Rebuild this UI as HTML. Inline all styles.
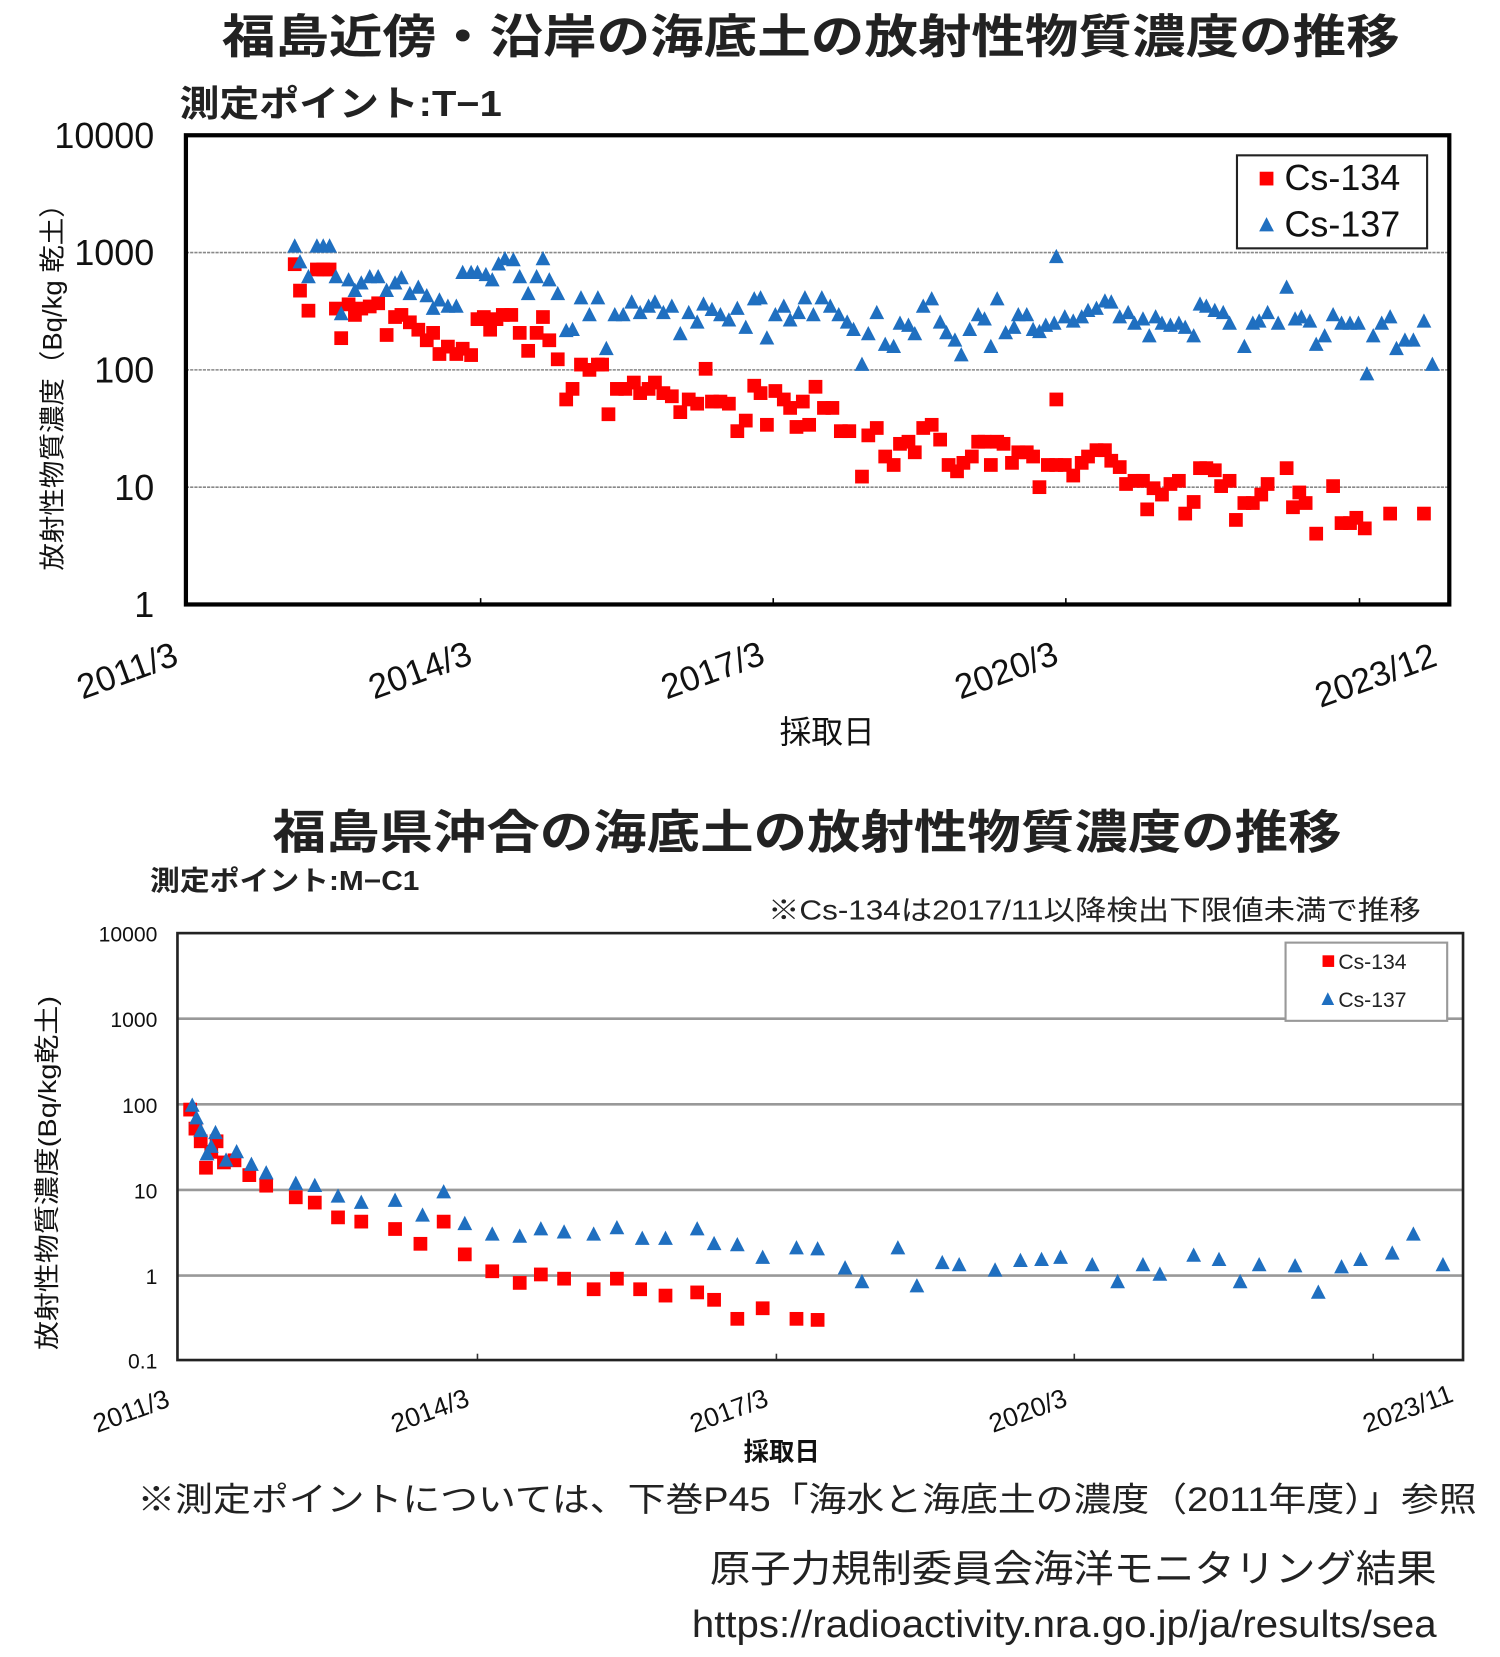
<!DOCTYPE html>
<html><head><meta charset="utf-8"><style>
html,body{margin:0;padding:0;background:#fff;}
svg{display:block;}
text{font-family:"Liberation Sans","Noto Sans CJK JP",sans-serif;}
</style></head><body>
<svg width="1500" height="1657" viewBox="0 0 1420 1568" preserveAspectRatio="none" xmlns="http://www.w3.org/2000/svg">
<defs>
<rect id="sq" x="-6.5" y="-6.5" width="13" height="13" fill="#ff0000"/>
<path id="tr" d="M0,-7.5 L7,6 L-7,6Z" fill="#1f6fc0"/>
</defs>
<!-- Top chart -->
<text x="210" y="50" textLength="1115" lengthAdjust="spacingAndGlyphs" font-size="44" font-weight="bold" fill="#222">福島近傍・沿岸の海底土の放射性物質濃度の推移</text>
<text x="170" y="110" textLength="305" lengthAdjust="spacingAndGlyphs" font-size="34" font-weight="bold" fill="#222">測定ポイント:T−1</text>
<g stroke="#888" stroke-width="1.5" stroke-dasharray="3,1">
<line x1="176" y1="239" x2="1372" y2="239"/><line x1="176" y1="350" x2="1372" y2="350"/><line x1="176" y1="461" x2="1372" y2="461"/>
</g>
<g stroke="#000" stroke-width="1.5"><line x1="455" y1="566" x2="455" y2="572"/><line x1="732" y1="566" x2="732" y2="572"/><line x1="1009" y1="566" x2="1009" y2="572"/><line x1="1287" y1="566" x2="1287" y2="572"/></g>
<rect x="176" y="128" width="1196" height="444" fill="none" stroke="#000" stroke-width="4"/>
<g font-size="34" text-anchor="end" fill="#111">
<text x="146" y="140">10000</text><text x="146" y="251">1000</text><text x="146" y="362">100</text><text x="146" y="473">10</text><text x="146" y="584">1</text>
</g>
<g font-size="33" fill="#111">
<text transform="translate(78,662) rotate(-20)">2011/3</text>
<text transform="translate(354,662) rotate(-20)">2014/3</text>
<text transform="translate(631,662) rotate(-20)">2017/3</text>
<text transform="translate(909,662) rotate(-20)">2020/3</text>
<text transform="translate(1250,670) rotate(-20)">2023/12</text>
</g>
<text x="783" y="703" text-anchor="middle" font-size="30" fill="#111">採取日</text>
<text transform="translate(58,360) rotate(-90)" text-anchor="middle" font-size="25" fill="#111" textLength="360" lengthAdjust="spacingAndGlyphs">放射性物質濃度（Bq/kg 乾土）</text>
<rect x="1171" y="147" width="180" height="88" fill="#fff" stroke="#222" stroke-width="2"/>
<use href="#sq" x="1199" y="169"/><text x="1216" y="180" font-size="34" fill="#111">Cs-134</text>
<use href="#tr" x="1199" y="213"/><text x="1216" y="224" font-size="34" fill="#111">Cs-137</text>
<g>
<use href="#sq" x="279" y="250"/><use href="#sq" x="284" y="275"/><use href="#sq" x="292" y="294"/><use href="#sq" x="300" y="255"/><use href="#sq" x="306" y="255"/><use href="#sq" x="312" y="255"/><use href="#sq" x="318" y="292"/><use href="#sq" x="323" y="320"/><use href="#sq" x="330" y="288"/><use href="#sq" x="336" y="298"/><use href="#sq" x="342" y="292"/><use href="#sq" x="350" y="290"/><use href="#sq" x="358" y="287"/><use href="#sq" x="366" y="317"/><use href="#sq" x="374" y="300"/><use href="#sq" x="380" y="298"/><use href="#sq" x="388" y="305"/><use href="#sq" x="396" y="312"/><use href="#sq" x="404" y="322"/><use href="#sq" x="410" y="315"/><use href="#sq" x="416" y="335"/><use href="#sq" x="424" y="328"/><use href="#sq" x="432" y="335"/><use href="#sq" x="438" y="330"/><use href="#sq" x="446" y="336"/><use href="#sq" x="452" y="302"/><use href="#sq" x="458" y="300"/><use href="#sq" x="464" y="312"/><use href="#sq" x="470" y="302"/><use href="#sq" x="476" y="298"/><use href="#sq" x="484" y="298"/><use href="#sq" x="492" y="315"/><use href="#sq" x="500" y="332"/><use href="#sq" x="508" y="315"/><use href="#sq" x="514" y="300"/><use href="#sq" x="520" y="322"/><use href="#sq" x="528" y="340"/><use href="#sq" x="536" y="378"/><use href="#sq" x="542" y="368"/><use href="#sq" x="550" y="345"/><use href="#sq" x="558" y="350"/><use href="#sq" x="566" y="345"/><use href="#sq" x="570" y="345"/><use href="#sq" x="576" y="392"/><use href="#sq" x="584" y="368"/><use href="#sq" x="592" y="368"/><use href="#sq" x="600" y="362"/><use href="#sq" x="606" y="372"/><use href="#sq" x="614" y="368"/><use href="#sq" x="620" y="362"/><use href="#sq" x="628" y="372"/><use href="#sq" x="636" y="375"/><use href="#sq" x="644" y="390"/><use href="#sq" x="652" y="378"/><use href="#sq" x="660" y="382"/><use href="#sq" x="668" y="349"/><use href="#sq" x="674" y="380"/><use href="#sq" x="682" y="380"/><use href="#sq" x="690" y="382"/><use href="#sq" x="698" y="408"/><use href="#sq" x="706" y="398"/><use href="#sq" x="714" y="365"/><use href="#sq" x="720" y="372"/><use href="#sq" x="726" y="402"/><use href="#sq" x="734" y="370"/><use href="#sq" x="742" y="378"/><use href="#sq" x="748" y="386"/><use href="#sq" x="754" y="404"/><use href="#sq" x="760" y="380"/><use href="#sq" x="766" y="402"/><use href="#sq" x="772" y="366"/><use href="#sq" x="780" y="386"/><use href="#sq" x="788" y="386"/><use href="#sq" x="796" y="408"/><use href="#sq" x="804" y="408"/><use href="#sq" x="816" y="451"/><use href="#sq" x="822" y="412"/><use href="#sq" x="830" y="405"/><use href="#sq" x="838" y="432"/><use href="#sq" x="846" y="440"/><use href="#sq" x="852" y="420"/><use href="#sq" x="860" y="418"/><use href="#sq" x="866" y="428"/><use href="#sq" x="874" y="405"/><use href="#sq" x="882" y="402"/><use href="#sq" x="890" y="416"/><use href="#sq" x="898" y="440"/><use href="#sq" x="906" y="446"/><use href="#sq" x="912" y="438"/><use href="#sq" x="920" y="432"/><use href="#sq" x="926" y="418"/><use href="#sq" x="932" y="418"/><use href="#sq" x="938" y="440"/><use href="#sq" x="944" y="418"/><use href="#sq" x="950" y="420"/><use href="#sq" x="958" y="438"/><use href="#sq" x="964" y="428"/><use href="#sq" x="972" y="428"/><use href="#sq" x="978" y="432"/><use href="#sq" x="984" y="461"/><use href="#sq" x="992" y="440"/><use href="#sq" x="1000" y="440"/><use href="#sq" x="1000" y="378"/><use href="#sq" x="1008" y="440"/><use href="#sq" x="1016" y="450"/><use href="#sq" x="1024" y="438"/><use href="#sq" x="1030" y="432"/><use href="#sq" x="1038" y="426"/><use href="#sq" x="1046" y="426"/><use href="#sq" x="1052" y="436"/><use href="#sq" x="1060" y="442"/><use href="#sq" x="1066" y="458"/><use href="#sq" x="1074" y="455"/><use href="#sq" x="1082" y="455"/><use href="#sq" x="1086" y="482"/><use href="#sq" x="1092" y="462"/><use href="#sq" x="1100" y="468"/><use href="#sq" x="1108" y="458"/><use href="#sq" x="1116" y="455"/><use href="#sq" x="1122" y="486"/><use href="#sq" x="1130" y="475"/><use href="#sq" x="1136" y="443"/><use href="#sq" x="1142" y="443"/><use href="#sq" x="1150" y="445"/><use href="#sq" x="1156" y="460"/><use href="#sq" x="1164" y="455"/><use href="#sq" x="1170" y="492"/><use href="#sq" x="1178" y="476"/><use href="#sq" x="1186" y="476"/><use href="#sq" x="1194" y="468"/><use href="#sq" x="1200" y="458"/><use href="#sq" x="1218" y="443"/><use href="#sq" x="1224" y="480"/><use href="#sq" x="1230" y="466"/><use href="#sq" x="1236" y="476"/><use href="#sq" x="1246" y="505"/><use href="#sq" x="1262" y="460"/><use href="#sq" x="1270" y="495"/><use href="#sq" x="1278" y="495"/><use href="#sq" x="1284" y="490"/><use href="#sq" x="1292" y="500"/><use href="#sq" x="1316" y="486"/><use href="#sq" x="1348" y="486"/>
</g>
<g>
<use href="#tr" x="279" y="233"/><use href="#tr" x="284" y="248"/><use href="#tr" x="292" y="262"/><use href="#tr" x="300" y="233"/><use href="#tr" x="306" y="233"/><use href="#tr" x="312" y="233"/><use href="#tr" x="318" y="262"/><use href="#tr" x="323" y="297"/><use href="#tr" x="330" y="265"/><use href="#tr" x="336" y="275"/><use href="#tr" x="342" y="268"/><use href="#tr" x="350" y="262"/><use href="#tr" x="358" y="262"/><use href="#tr" x="366" y="275"/><use href="#tr" x="374" y="268"/><use href="#tr" x="380" y="263"/><use href="#tr" x="388" y="278"/><use href="#tr" x="396" y="272"/><use href="#tr" x="404" y="280"/><use href="#tr" x="410" y="292"/><use href="#tr" x="416" y="284"/><use href="#tr" x="424" y="290"/><use href="#tr" x="432" y="290"/><use href="#tr" x="438" y="258"/><use href="#tr" x="446" y="258"/><use href="#tr" x="452" y="258"/><use href="#tr" x="460" y="260"/><use href="#tr" x="466" y="265"/><use href="#tr" x="472" y="250"/><use href="#tr" x="478" y="245"/><use href="#tr" x="486" y="246"/><use href="#tr" x="492" y="262"/><use href="#tr" x="500" y="278"/><use href="#tr" x="508" y="262"/><use href="#tr" x="514" y="245"/><use href="#tr" x="520" y="265"/><use href="#tr" x="528" y="278"/><use href="#tr" x="536" y="313"/><use href="#tr" x="542" y="312"/><use href="#tr" x="550" y="282"/><use href="#tr" x="558" y="298"/><use href="#tr" x="566" y="282"/><use href="#tr" x="574" y="330"/><use href="#tr" x="582" y="298"/><use href="#tr" x="590" y="298"/><use href="#tr" x="598" y="286"/><use href="#tr" x="606" y="296"/><use href="#tr" x="614" y="290"/><use href="#tr" x="620" y="286"/><use href="#tr" x="628" y="296"/><use href="#tr" x="636" y="290"/><use href="#tr" x="644" y="316"/><use href="#tr" x="652" y="296"/><use href="#tr" x="660" y="305"/><use href="#tr" x="666" y="288"/><use href="#tr" x="674" y="293"/><use href="#tr" x="682" y="298"/><use href="#tr" x="690" y="303"/><use href="#tr" x="698" y="292"/><use href="#tr" x="706" y="310"/><use href="#tr" x="714" y="283"/><use href="#tr" x="720" y="282"/><use href="#tr" x="726" y="320"/><use href="#tr" x="734" y="298"/><use href="#tr" x="742" y="290"/><use href="#tr" x="748" y="303"/><use href="#tr" x="756" y="296"/><use href="#tr" x="762" y="282"/><use href="#tr" x="770" y="298"/><use href="#tr" x="778" y="282"/><use href="#tr" x="786" y="290"/><use href="#tr" x="794" y="298"/><use href="#tr" x="802" y="305"/><use href="#tr" x="808" y="312"/><use href="#tr" x="816" y="345"/><use href="#tr" x="822" y="316"/><use href="#tr" x="830" y="296"/><use href="#tr" x="838" y="326"/><use href="#tr" x="846" y="328"/><use href="#tr" x="852" y="306"/><use href="#tr" x="860" y="308"/><use href="#tr" x="866" y="316"/><use href="#tr" x="874" y="290"/><use href="#tr" x="882" y="283"/><use href="#tr" x="890" y="305"/><use href="#tr" x="896" y="315"/><use href="#tr" x="904" y="322"/><use href="#tr" x="910" y="336"/><use href="#tr" x="918" y="312"/><use href="#tr" x="926" y="298"/><use href="#tr" x="932" y="302"/><use href="#tr" x="938" y="328"/><use href="#tr" x="944" y="283"/><use href="#tr" x="952" y="315"/><use href="#tr" x="960" y="310"/><use href="#tr" x="964" y="298"/><use href="#tr" x="972" y="298"/><use href="#tr" x="978" y="312"/><use href="#tr" x="984" y="314"/><use href="#tr" x="990" y="308"/><use href="#tr" x="998" y="306"/><use href="#tr" x="1000" y="243"/><use href="#tr" x="1008" y="300"/><use href="#tr" x="1016" y="304"/><use href="#tr" x="1024" y="300"/><use href="#tr" x="1030" y="294"/><use href="#tr" x="1038" y="292"/><use href="#tr" x="1046" y="285"/><use href="#tr" x="1052" y="286"/><use href="#tr" x="1060" y="300"/><use href="#tr" x="1068" y="296"/><use href="#tr" x="1074" y="306"/><use href="#tr" x="1082" y="302"/><use href="#tr" x="1088" y="318"/><use href="#tr" x="1094" y="300"/><use href="#tr" x="1100" y="306"/><use href="#tr" x="1108" y="308"/><use href="#tr" x="1116" y="306"/><use href="#tr" x="1122" y="310"/><use href="#tr" x="1130" y="318"/><use href="#tr" x="1136" y="288"/><use href="#tr" x="1142" y="290"/><use href="#tr" x="1150" y="294"/><use href="#tr" x="1158" y="296"/><use href="#tr" x="1164" y="306"/><use href="#tr" x="1178" y="328"/><use href="#tr" x="1186" y="306"/><use href="#tr" x="1192" y="304"/><use href="#tr" x="1200" y="296"/><use href="#tr" x="1210" y="306"/><use href="#tr" x="1218" y="272"/><use href="#tr" x="1226" y="302"/><use href="#tr" x="1232" y="300"/><use href="#tr" x="1240" y="304"/><use href="#tr" x="1246" y="326"/><use href="#tr" x="1254" y="318"/><use href="#tr" x="1262" y="298"/><use href="#tr" x="1270" y="306"/><use href="#tr" x="1278" y="306"/><use href="#tr" x="1286" y="306"/><use href="#tr" x="1294" y="354"/><use href="#tr" x="1300" y="318"/><use href="#tr" x="1308" y="306"/><use href="#tr" x="1316" y="300"/><use href="#tr" x="1322" y="330"/><use href="#tr" x="1330" y="322"/><use href="#tr" x="1338" y="322"/><use href="#tr" x="1348" y="304"/><use href="#tr" x="1356" y="345"/>
</g>

<!-- Bottom chart -->
<text x="258" y="803" textLength="1012" lengthAdjust="spacingAndGlyphs" font-size="44" font-weight="bold" fill="#222">福島県沖合の海底土の放射性物質濃度の推移</text>
<text x="142" y="842" textLength="255" lengthAdjust="spacingAndGlyphs" font-size="26" font-weight="bold" fill="#222">測定ポイント:M−C1</text>
<text x="727" y="870" textLength="618" lengthAdjust="spacingAndGlyphs" font-size="26" fill="#222">※Cs-134は2017/11以降検出下限値未満で推移</text>
<g stroke="#999" stroke-width="2.5">
<line x1="168" y1="964" x2="1385" y2="964"/><line x1="168" y1="1045" x2="1385" y2="1045"/><line x1="168" y1="1126" x2="1385" y2="1126"/><line x1="168" y1="1207" x2="1385" y2="1207"/>
</g>
<g stroke="#333" stroke-width="1.5"><line x1="452" y1="1281" x2="452" y2="1287"/><line x1="735" y1="1281" x2="735" y2="1287"/><line x1="1017" y1="1281" x2="1017" y2="1287"/><line x1="1300" y1="1281" x2="1300" y2="1287"/></g>
<rect x="168" y="883" width="1217" height="404" fill="none" stroke="#222" stroke-width="2.5"/>
<g font-size="20" text-anchor="end" fill="#111">
<text x="149" y="891">10000</text><text x="149" y="972">1000</text><text x="149" y="1053">100</text><text x="149" y="1134">10</text><text x="149" y="1215">1</text><text x="149" y="1295">0.1</text>
</g>
<g font-size="25" fill="#111">
<text transform="translate(92,1356) rotate(-20)">2011/3</text>
<text transform="translate(374,1356) rotate(-20)">2014/3</text>
<text transform="translate(657,1356) rotate(-20)">2017/3</text>
<text transform="translate(940,1356) rotate(-20)">2020/3</text>
<text transform="translate(1294,1356) rotate(-20)">2023/11</text>
</g>
<text x="740" y="1382" text-anchor="middle" font-size="24" font-weight="bold" fill="#111">採取日</text>
<text transform="translate(53,1110) rotate(-90)" text-anchor="middle" font-size="24" fill="#111" textLength="335" lengthAdjust="spacingAndGlyphs">放射性物質濃度(Bq/kg乾土)</text>
<rect x="1217" y="892" width="153" height="74" fill="#fff" stroke="#999" stroke-width="2"/>
<rect x="1252" y="904" width="11" height="11" fill="#ff0000"/><text x="1267" y="917" font-size="20" fill="#222">Cs-134</text>
<path d="M1257,939 L1263,951 L1251,951Z" fill="#1f6fc0"/><text x="1267" y="953" font-size="20" fill="#222">Cs-137</text>
<g>
<use href="#sq" x="180" y="1050"/><use href="#sq" x="185" y="1068"/><use href="#sq" x="190" y="1080"/><use href="#sq" x="195" y="1105"/><use href="#sq" x="200" y="1090"/><use href="#sq" x="205" y="1080"/><use href="#sq" x="212" y="1100"/><use href="#sq" x="222" y="1098"/><use href="#sq" x="236" y="1112"/><use href="#sq" x="252" y="1122"/><use href="#sq" x="280" y="1133"/><use href="#sq" x="298" y="1138"/><use href="#sq" x="320" y="1152"/><use href="#sq" x="342" y="1156"/><use href="#sq" x="374" y="1163"/><use href="#sq" x="398" y="1177"/><use href="#sq" x="420" y="1156"/><use href="#sq" x="440" y="1187"/><use href="#sq" x="466" y="1203"/><use href="#sq" x="492" y="1214"/><use href="#sq" x="512" y="1206"/><use href="#sq" x="534" y="1210"/><use href="#sq" x="562" y="1220"/><use href="#sq" x="584" y="1210"/><use href="#sq" x="606" y="1220"/><use href="#sq" x="630" y="1226"/><use href="#sq" x="660" y="1223"/><use href="#sq" x="676" y="1230"/><use href="#sq" x="698" y="1248"/><use href="#sq" x="722" y="1238"/><use href="#sq" x="754" y="1248"/><use href="#sq" x="774" y="1249"/>
</g>
<g>
<use href="#tr" x="182" y="1046"/><use href="#tr" x="186" y="1058"/><use href="#tr" x="190" y="1070"/><use href="#tr" x="196" y="1092"/><use href="#tr" x="200" y="1085"/><use href="#tr" x="204" y="1072"/><use href="#tr" x="214" y="1098"/><use href="#tr" x="224" y="1090"/><use href="#tr" x="238" y="1102"/><use href="#tr" x="252" y="1110"/><use href="#tr" x="280" y="1120"/><use href="#tr" x="298" y="1122"/><use href="#tr" x="320" y="1132"/><use href="#tr" x="342" y="1138"/><use href="#tr" x="374" y="1136"/><use href="#tr" x="400" y="1150"/><use href="#tr" x="420" y="1128"/><use href="#tr" x="440" y="1158"/><use href="#tr" x="466" y="1168"/><use href="#tr" x="492" y="1170"/><use href="#tr" x="512" y="1163"/><use href="#tr" x="534" y="1166"/><use href="#tr" x="562" y="1168"/><use href="#tr" x="584" y="1162"/><use href="#tr" x="608" y="1172"/><use href="#tr" x="630" y="1172"/><use href="#tr" x="660" y="1163"/><use href="#tr" x="676" y="1177"/><use href="#tr" x="698" y="1178"/><use href="#tr" x="722" y="1190"/><use href="#tr" x="754" y="1181"/><use href="#tr" x="774" y="1182"/><use href="#tr" x="800" y="1200"/><use href="#tr" x="816" y="1213"/><use href="#tr" x="850" y="1181"/><use href="#tr" x="868" y="1217"/><use href="#tr" x="892" y="1195"/><use href="#tr" x="908" y="1197"/><use href="#tr" x="942" y="1202"/><use href="#tr" x="966" y="1193"/><use href="#tr" x="986" y="1192"/><use href="#tr" x="1004" y="1190"/><use href="#tr" x="1034" y="1197"/><use href="#tr" x="1058" y="1213"/><use href="#tr" x="1082" y="1197"/><use href="#tr" x="1098" y="1206"/><use href="#tr" x="1130" y="1188"/><use href="#tr" x="1154" y="1192"/><use href="#tr" x="1174" y="1213"/><use href="#tr" x="1192" y="1197"/><use href="#tr" x="1226" y="1198"/><use href="#tr" x="1248" y="1223"/><use href="#tr" x="1270" y="1199"/><use href="#tr" x="1288" y="1192"/><use href="#tr" x="1318" y="1186"/><use href="#tr" x="1338" y="1168"/><use href="#tr" x="1366" y="1197"/>
</g>
<text x="130" y="1430" textLength="1268" lengthAdjust="spacingAndGlyphs" font-size="32" fill="#222">※測定ポイントについては、下巻P45「海水と海底土の濃度（2011年度）」参照</text>
<text x="672" y="1497" textLength="688" lengthAdjust="spacingAndGlyphs" font-size="36" fill="#222">原子力規制委員会海洋モニタリング結果</text>
<text x="655" y="1549" textLength="705" lengthAdjust="spacingAndGlyphs" font-size="36" fill="#222">https://radioactivity.nra.go.jp/ja/results/sea</text>
</svg>
</body></html>
